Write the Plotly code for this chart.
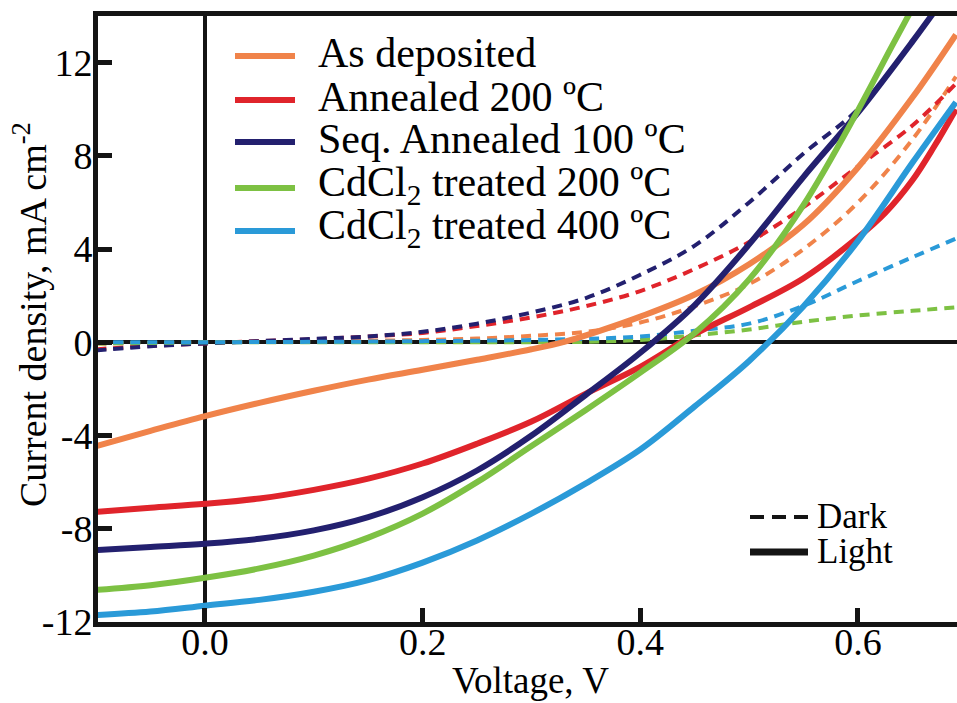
import plotly.graph_objects as go

# ---------------- data ----------------
series_names = ["As deposited", "Annealed 200 ºC", "Seq. Annealed 100 ºC",
                "CdCl<sub>2</sub> treated 200 ºC", "CdCl<sub>2</sub> treated 400 ºC"]
series_colors = ["#F0834A", "#E0242B", "#23206F", "#7DC143", "#2A9AD8"]

# Light (solid) curves
v_as_dep_light = [-0.1, -0.05, 0.0, 0.05, 0.1, 0.15, 0.2, 0.25, 0.3, 0.33, 0.36, 0.4, 0.45, 0.5, 0.55, 0.6, 0.65, 0.69]
j_as_dep_light = [-4.45, -3.8, -3.17, -2.6, -2.08, -1.6, -1.18, -0.75, -0.3, 0.02, 0.45, 1.1, 2.05, 3.35, 5.05, 7.5, 10.5, 13.2]

v_ann200_light = [-0.1, -0.05, 0.0, 0.05, 0.1, 0.15, 0.2, 0.25, 0.3, 0.35, 0.4, 0.45, 0.5, 0.55, 0.6, 0.625, 0.65, 0.67, 0.69]
j_ann200_light = [-7.28, -7.1, -6.93, -6.7, -6.33, -5.85, -5.2, -4.35, -3.4, -2.2, -1.05, 0.35, 1.5, 2.75, 4.5, 5.55, 6.95, 8.4, 10.0]

v_seq100_light = [-0.1, -0.05, 0.0, 0.05, 0.1, 0.15, 0.2, 0.25, 0.3, 0.35, 0.4, 0.45, 0.5, 0.55, 0.6, 0.65, 0.675]
j_seq100_light = [-8.92, -8.78, -8.64, -8.43, -8.07, -7.5, -6.65, -5.5, -4.0, -2.25, -0.45, 1.6, 4.2, 7.1, 9.85, 12.9, 14.5]

v_cd200_light = [-0.1, -0.05, 0.0, 0.05, 0.1, 0.15, 0.2, 0.25, 0.3, 0.35, 0.4, 0.45, 0.5, 0.55, 0.6, 0.63, 0.66]
j_cd200_light = [-10.62, -10.42, -10.1, -9.7, -9.15, -8.38, -7.35, -6.0, -4.45, -2.9, -1.3, 0.4, 2.7, 5.9, 9.95, 12.6, 15.2]

v_cd400_light = [-0.1, -0.05, 0.0, 0.05, 0.1, 0.15, 0.2, 0.25, 0.3, 0.35, 0.4, 0.45, 0.5, 0.55, 0.6, 0.65, 0.69]
j_cd400_light = [-11.7, -11.55, -11.3, -11.05, -10.7, -10.2, -9.45, -8.5, -7.35, -6.05, -4.6, -2.75, -0.8, 1.55, 4.35, 7.7, 10.3]

# Dark (dashed) curves
v_dark = [-0.1, -0.05, 0.0, 0.05, 0.1, 0.15, 0.2, 0.25, 0.3, 0.35, 0.4, 0.45, 0.5, 0.55, 0.6, 0.65, 0.69]
j_as_dep_dark = [-0.05, -0.03, 0.0, 0.02, 0.05, 0.07, 0.1, 0.16, 0.28, 0.45, 0.85, 1.55, 2.5, 4.0, 6.0, 8.7, 11.4]
j_ann200_dark = [-0.3, -0.15, -0.05, 0.05, 0.13, 0.25, 0.4, 0.7, 1.07, 1.55, 2.2, 3.15, 4.3, 5.8, 7.55, 9.3, 11.1]
j_seq100_dark = [-0.35, -0.17, -0.05, 0.05, 0.15, 0.25, 0.45, 0.8, 1.28, 1.9, 2.9, 4.15, 6.0, 8.1, 10.0, 12.9, 15.5]
j_cd200_dark = [-0.05, -0.03, 0.0, 0.0, 0.0, 0.0, 0.0, 0.0, 0.0, 0.02, 0.1, 0.3, 0.55, 0.88, 1.15, 1.35, 1.5]
j_cd400_dark = [0.0, 0.0, 0.0, 0.01, 0.02, 0.03, 0.05, 0.07, 0.1, 0.15, 0.25, 0.5, 0.8, 1.57, 2.63, 3.65, 4.45]

x_tick_vals = [0.0, 0.2, 0.4, 0.6]
x_tick_text = ["0.0", "0.2", "0.4", "0.6"]
y_tick_vals = [-12, -8, -4, 0, 4, 8, 12]
y_tick_text = ["-12", "-8", "-4", "0", "4", "8", "12"]

light_v = [v_as_dep_light, v_ann200_light, v_seq100_light, v_cd200_light, v_cd400_light]
light_j = [j_as_dep_light, j_ann200_light, j_seq100_light, j_cd200_light, j_cd400_light]
dark_j = [j_as_dep_dark, j_ann200_dark, j_seq100_dark, j_cd200_dark, j_cd400_dark]

# ---------------- figure ----------------
W, H = 957, 703
L, R, T, B = 98, 0, 16, 81
FONT = "'Liberation Serif', 'Times New Roman', Times, serif"
INK = "#141414"

fig = go.Figure()

for name, col, jd in zip(series_names, series_colors, dark_j):
    fig.add_trace(go.Scatter(x=v_dark, y=jd, mode="lines", name=name + " (dark)",
                             line=dict(color=col, width=4, dash="10px,7px", shape="spline", smoothing=1.0),
                             showlegend=False))
for name, col, vv, jj in zip(series_names, series_colors, light_v, light_j):
    fig.add_trace(go.Scatter(x=vv, y=jj, mode="lines", name=name,
                             line=dict(color=col, width=6, shape="spline", smoothing=1.0),
                             showlegend=False))

pw, ph = W - L - R, H - T - B


def px(xp):
    return (xp - L) / pw


def py(yp):
    return (H - B - yp) / ph


annotations = []
shapes = []
legend_rows = [56, 100, 142, 188, 231]
for name, col, yr in zip(series_names, series_colors, legend_rows):
    shapes.append(dict(type="line", xref="paper", yref="paper", x0=px(235), x1=px(295),
                       y0=py(yr), y1=py(yr), line=dict(color=col, width=6)))
    annotations.append(dict(xref="paper", yref="paper", x=px(316), y=py(yr - 3), xanchor="left",
                            yanchor="middle", showarrow=False, text=name,
                            font=dict(family=FONT, size=42, color="black")))

style_names = ["Dark", "Light"]
style_rows = [517, 552]
style_dash = ["14px,8px", "solid"]
style_width = [4, 7]
for nm, yr, ds, wd in zip(style_names, style_rows, style_dash, style_width):
    shapes.append(dict(type="line", xref="paper", yref="paper", x0=px(750), x1=px(808),
                       y0=py(yr), y1=py(yr), line=dict(color=INK, width=wd, dash=ds)))
    annotations.append(dict(xref="paper", yref="paper", x=px(815), y=py(yr - 1), xanchor="left",
                            yanchor="middle", showarrow=False, text=nm,
                            font=dict(family=FONT, size=35, color="black")))

annotations.append(dict(xref="paper", yref="paper", x=px(30), y=py(315), xanchor="center",
                        yanchor="middle", showarrow=False, textangle=-90,
                        text="Current density, mA cm<sup>-2</sup>",
                        font=dict(family=FONT, size=38, color="black")))
annotations.append(dict(xref="paper", yref="paper", x=px(530), y=py(680), xanchor="center",
                        yanchor="middle", showarrow=False, text="Voltage, V",
                        font=dict(family=FONT, size=37, color="black")))

axis_common = dict(showline=True, linewidth=5, linecolor=INK, ticks="inside", ticklen=14,
                   tickwidth=5, tickcolor=INK, showgrid=False, zeroline=True,
                   zerolinecolor=INK, zerolinewidth=4,
                   tickfont=dict(family=FONT, size=38, color="black"))

fig.update_layout(
    width=W, height=H, margin=dict(l=L, r=R, t=T, b=B, autoexpand=False),
    paper_bgcolor="white", plot_bgcolor="white", showlegend=False,
    xaxis=dict(range=[-0.0983, 0.691], tickvals=x_tick_vals, ticktext=x_tick_text,
               mirror=True, ticklabelstandoff=-18, **axis_common),
    yaxis=dict(range=[-12, 14.0], tickvals=y_tick_vals, ticktext=y_tick_text,
               mirror=False, ticklabelstandoff=-7, **axis_common),
    shapes=shapes, annotations=annotations,
)

fig.write_html("out.html", config={"displayModeBar": False},
               post_script="document.body.style.margin='0';document.body.style.overflow='hidden';")
